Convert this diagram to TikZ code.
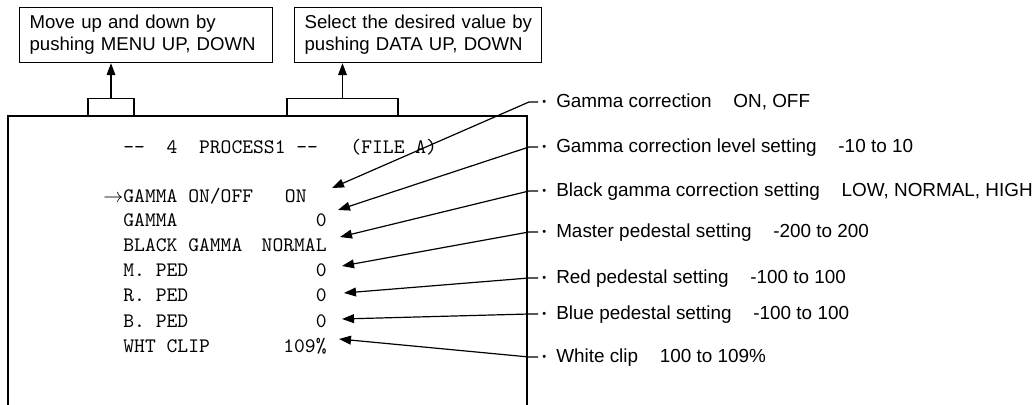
\documentclass[tikz,border=0pt]{standalone}
\usepackage{fontspec}
\setmainfont{Liberation Sans}
\usetikzlibrary{arrows.meta}
\newcommand\osddash{-\kern0pt-}
\newcommand\dotmark{\raisebox{0.7pt}{\fontsize{5.5}{5.5}\selectfont •}}

\begin{document}
\begin{tikzpicture}[x=0.5pt, y=-0.5pt,
  frame/.style={line width=0.6pt},
  note/.style={draw, line width=0.6pt, anchor=north west, inner xsep=5pt, inner ysep=0pt,
    minimum height=27.5pt, align=left, font=\fontsize{9.3}{11}\selectfont},
  tab/.style={draw, line width=0.6pt, anchor=south, minimum height=8.5pt, inner sep=0pt},
  osd/.style={font=\ttfamily\fontsize{10.3}{12}\selectfont, inner sep=0pt},
  item/.style={osd, anchor=mid west},
  val/.style={osd, anchor=mid east},
  lbl/.style={anchor=mid west, inner sep=0pt, font=\fontsize{9.45}{11}\selectfont},
  ptr/.style={-{Triangle[length=6pt, width=4.4pt]}, line width=0.6pt},
  lead/.style={ptr, shorten <=2pt},
]
\useasboundingbox (0,0) rectangle (1035,405);

% the two notes on top
\node[note, text width=116.5pt] (menu) at (19,7) {\mbox{Move up and down by}\\\mbox{pushing MENU UP, DOWN}};
\node[note, text width=113.5pt] (data) at (294,7) {\mbox{Select the desired value by}\\\mbox{pushing DATA UP, DOWN}};

% screen
\draw[frame] (8,405) -- (8,116) -- (527,116) -- (527,405);
\node[tab, minimum width=23pt] (tabmenu) at (111,116) {};
\node[tab, minimum width=55.5pt] (tabdata) at (342.5,116) {};
\draw[ptr] (tabmenu.north) -- (tabmenu.north |- menu.south);
\draw[ptr] (tabdata.north) -- (tabdata.north |- data.south);

\node[item] (title) at (123,148) {\osddash~~4~~PROCESS1~\osddash~~~(FILE A)};
\node[item] (onoff) at (123,197) {\llap{$\rightarrow$}GAMMA ON/OFF};
\node[val] (onoffv) at (307,197) {ON};
\node[item] (gamma) at (123,221) {GAMMA};
\node[val] (gammav) at (327,221) {0};
\node[item] (black) at (123,246) {BLACK GAMMA};
\node[val] (blackv) at (327,246) {NORMAL};
\node[item] (mped) at (123,271) {M.~PED};
\node[val] (mpedv) at (327,271) {0};
\node[item] (rped) at (123,296) {R.~PED};
\node[val] (rpedv) at (327,296) {0};
\node[item] (bped) at (123,322) {B.~PED};
\node[val] (bpedv) at (327,322) {0};
\node[item] (clip) at (123,347) {WHT~CLIP};
\node[val] (clipv) at (327,347) {109\%};

% explanations
\node[lbl] (l1) at (542,102) {\dotmark\hspace{5pt}Gamma correction\hspace{1.15em}ON, OFF};
\node[lbl] (l2) at (542,147) {\dotmark\hspace{5pt}Gamma correction level setting\hspace{1.15em}-10 to 10};
\node[lbl] (l3) at (542,191) {\dotmark\hspace{5pt}Black gamma correction setting\hspace{1.15em}LOW, NORMAL, HIGH};
\node[lbl] (l4) at (542,232) {\dotmark\hspace{5pt}Master pedestal setting\hspace{1.15em}-200 to 200};
\node[lbl] (l5) at (542,278) {\dotmark\hspace{5pt}Red pedestal setting\hspace{1.15em}-100 to 100};
\node[lbl] (l6) at (542,314) {\dotmark\hspace{5pt}Blue pedestal setting\hspace{1.15em}-100 to 100};
\node[lbl] (l7) at (542,357) {\dotmark\hspace{5pt}White clip\hspace{1.15em}100 to 109\%};

\coordinate (t1) at (332,188);
\coordinate (t2) at (338,210);
\coordinate (t3) at (340,237);
\coordinate (t4) at (342,266);
\coordinate (t5) at (344,293);
\coordinate (t6) at (342,319);
\coordinate (t7) at (339,339);

\draw[lead] (l1.mid west) -- ++(-13,0) -- (t1);
\draw[lead] (l2.mid west) -- ++(-13,0) -- (t2);
\draw[lead] (l3.mid west) -- ++(-13,0) -- (t3);
\draw[lead] (l4.mid west) -- ++(-13,0) -- (t4);
\draw[lead] (l5.mid west) -- ++(-13,0) -- (t5);
\draw[lead] (l6.mid west) -- ++(-13,0) -- (t6);
\draw[lead] (l7.mid west) -- ++(-13,0) -- (t7);
\end{tikzpicture}
\end{document}
